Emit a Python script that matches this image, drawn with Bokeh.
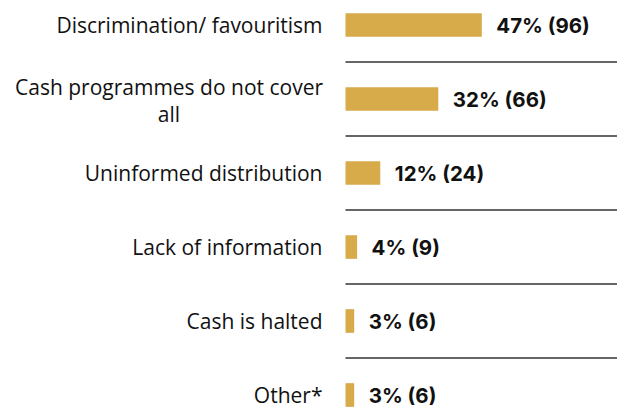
from bokeh.plotting import figure
from bokeh.models import Range1d, ColumnDataSource
from bokeh.core.properties import value
from bokeh.embed import file_html
from bokeh.resources import INLINE

categories = ["Discrimination/ favouritism", "Cash programmes do not cover\nall",
              "Uninformed distribution", "Lack of information", "Cash is halted", "Other*"]
percents = [47, 32, 12, 4, 3, 3]
counts = [96, 66, 24, 9, 6, 6]
labels = [f"{p}% ({c})" for p, c in zip(percents, counts)]
rows = list(range(len(categories)))

W, H = 617, 409
PX_PER_PCT = 2.9
x0_px = 345.0  # bar origin, in figure pixels
x_start = -x0_px / PX_PER_PCT
x_end = (W - x0_px) / PX_PER_PCT
ROW_PX = 74.0
top_px = 24.5  # first row centre from figure top
y_top = -top_px / ROW_PX
y_bot = (H - top_px) / ROW_PX

p = figure(width=W, height=H, output_backend="svg", toolbar_location=None,
           x_range=Range1d(x_start, x_end), y_range=Range1d(y_bot, y_top),
           min_border=0)
p.axis.visible = False
p.grid.visible = False
p.outline_line_color = None
p.background_fill_color = "white"

src = ColumnDataSource(dict(y=rows, pct=percents, label=labels,
                            zero=[0] * len(rows)))

p.hbar(y="y", left="zero", right="pct", height=0.32, source=src,
       fill_color="#D7AA4A", line_color=None)

p.text(x="pct", y="y", text="label", source=src, x_offset=14.5,
       text_font=value("Inter"), text_font_style="bold", text_font_size="20.5px",
       text_baseline="middle", text_align="left", text_color="#111111")

single = [i for i, c in enumerate(categories) if "\n" not in c]
multi = [i for i, c in enumerate(categories) if "\n" in c]
src1 = ColumnDataSource(dict(y=[rows[i] for i in single], cat=[categories[i] for i in single],
                             zero=[0] * len(single)))
src2 = ColumnDataSource(dict(y=[rows[i] for i in multi], cat=[categories[i] for i in multi],
                             zero=[0] * len(multi)))

p.text(x="zero", y="y", text="cat", source=src1, x_offset=-23,
       text_font=value("Open Sans"), text_font_size="21px",
       text_baseline="middle", text_align="right", text_color="#111111")
p.text(x="zero", y="y", text="cat", source=src2, x_offset=-176.5, y_offset=1.5,
       text_font=value("Open Sans"), text_font_size="21px", text_line_height=0.95,
       text_baseline="middle", text_align="center", text_color="#111111")

sep_y = [r + 0.5 for r in rows[:-1]]
p.segment(x0=[0] * len(sep_y), x1=[x_end] * len(sep_y), y0=sep_y, y1=sep_y,
          line_color="#333333", line_width=1.4)

open("out.html", "w").write(file_html(p, INLINE))
